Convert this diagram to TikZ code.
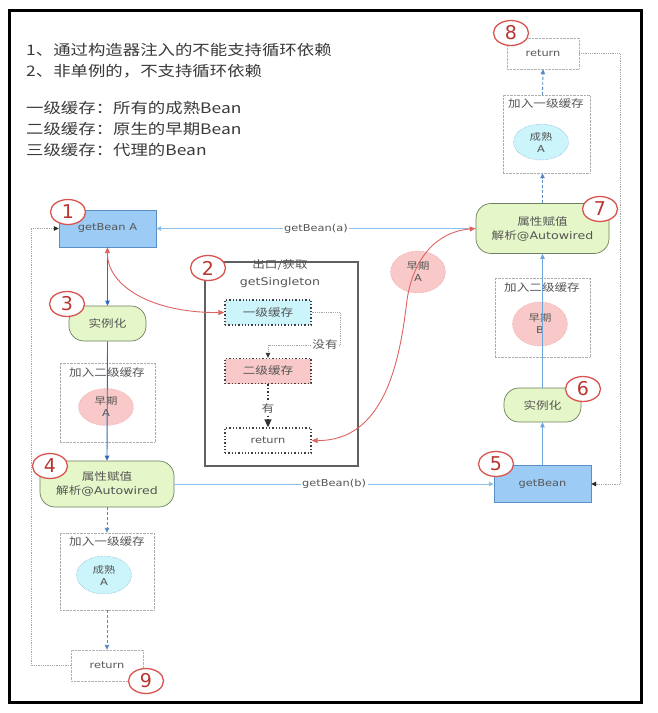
\documentclass[tikz,border=0pt]{standalone}
\usepackage{fontspec}
\setmainfont[FakeStretch=1.2]{Noto Sans CJK SC}
\newfontfamily\lat[FakeStretch=1.2]{DejaVu Sans}
\newfontfamily\numfont{DejaVu Sans}
\usetikzlibrary{arrows.meta,shapes.geometric}
\definecolor{bfill}{HTML}{9CCBF6}
\definecolor{bdraw}{HTML}{5A8FC6}
\definecolor{gfill}{HTML}{E5F6C8}
\definecolor{gdraw}{HTML}{6F7F60}
\definecolor{cyanfill}{HTML}{CBF4FB}
\definecolor{pinkfill}{HTML}{F8C9C8}
\definecolor{redc}{HTML}{D9534F}
\definecolor{numtxt}{HTML}{B8362F}
\definecolor{darkblue}{HTML}{2E6CB5}
\definecolor{lightblue}{HTML}{8CBEE8}
\definecolor{midblue}{HTML}{6AA5DC}
\definecolor{txt}{HTML}{555555}
\definecolor{toptxt}{HTML}{3A3A3A}
\tikzset{
  bbox/.style={draw=bdraw, fill=bfill, minimum width=97pt, minimum height=37pt, inner sep=0pt, text=txt, font=\lat\fontsize{9.5}{12}\selectfont},
  gbox/.style={draw=gdraw, fill=gfill, rounded corners=15pt, inner sep=0pt, text=txt, align=center, line width=0.7pt, font=\fontsize{10.5}{14}\selectfont},
  grp/.style={draw=gray!65, densely dotted, inner sep=0pt},
  grplabel/.style={text=txt, font=\fontsize{10.5}{12}\selectfont, inner sep=0pt},
  cell/.style={ellipse, densely dotted, inner sep=0pt, text=txt, align=center, font=\fontsize{9.5}{12}\selectfont},
  cbox/.style={draw=black!75, dotted, line width=1.3pt, minimum width=86pt, minimum height=25pt, inner sep=0pt, text=txt, font=\fontsize{10.5}{12}\selectfont},
  rbox/.style={draw=gray!60, densely dotted, fill=white, minimum width=72pt, minimum height=31pt, inner sep=0pt, text=txt, font=\lat\fontsize{9.5}{12}\selectfont},
  numc/.style={ellipse, draw=redc, line width=1.3pt, fill=white, minimum width=35pt, minimum height=25pt, inner sep=0pt, text=numtxt, font=\numfont\fontsize{19}{19}\selectfont},
  toptext/.style={anchor=west, inner sep=0pt, text=toptxt, font=\fontsize{14.5}{17}\selectfont},
  arr/.style={-{Triangle[length=5pt,width=4.5pt]}},
  vline/.style={draw=darkblue, line width=0.9pt},
  hline/.style={draw=lightblue, line width=0.9pt},
  rvline/.style={draw=midblue, line width=0.9pt},
  dline/.style={draw=darkblue!80, densely dashed, line width=0.9pt},
  loopline/.style={draw=gray!70, densely dotted, line width=0.8pt, -{Triangle[length=5pt,width=4.5pt,color=black!85]}},
  redline/.style={draw=redc!90, line width=0.9pt, {Triangle[length=6pt,width=5pt]}-{Triangle[length=6pt,width=5pt]}},
  lab/.style={fill=white, inner sep=1.5pt, text=txt, font=\lat\fontsize{9.5}{12}\selectfont}
}
\begin{document}
\begin{tikzpicture}[x=1pt,y=-1pt]
\path[use as bounding box, fill=white] (0,0) rectangle (658,713);
\draw[line width=3pt] (9.5,10.5) rectangle (641.5,702.5);

% top texts
\node[toptext] (t1) at (26,50) {1、通过构造器注入的不能支持循环依赖};
\node[toptext] (t2) at (26,71) {2、非单例的，不支持循环依赖};
\node[toptext] (t3) at (26,108) {一级缓存：所有的成熟Bean};
\node[toptext] (t4) at (26,129) {二级缓存：原生的早期Bean};
\node[toptext] (t5) at (26,150) {三级缓存：代理的Bean};

% group boxes with caches
\node[grp, minimum width=95pt, minimum height=79pt] (gL2) at (107.5,402.5) {};
\node[grplabel] (gL2t) at (107,373) {加入二级缓存};
\node[cell, fill=pinkfill, draw=redc!70, minimum width=55pt, minimum height=37pt] (eaL) at (106,407) {早期\\{\lat A}};

\node[grp, minimum width=94pt, minimum height=77pt] (gL1) at (107,571.5) {};
\node[grplabel] (gL1t) at (107,542) {加入一级缓存};
\node[cell, fill=cyanfill, draw=bdraw, minimum width=55pt, minimum height=38pt] (maL) at (104,575) {成熟\\{\lat A}};

\node[grp, minimum width=87pt, minimum height=78pt] (gR1) at (546.5,134) {};
\node[grplabel] (gR1t) at (546,104) {加入一级缓存};
\node[cell, fill=cyanfill, draw=bdraw, minimum width=55pt, minimum height=36pt] (maR) at (541,142) {成熟\\{\lat A}};

\node[grp, minimum width=95pt, minimum height=79pt] (gR2) at (542.5,317.5) {};
\node[grplabel] (gR2t) at (542,288) {加入二级缓存};
\node[cell, fill=pinkfill, draw=redc!70, minimum width=55pt, minimum height=44pt] (ebR) at (540,324) {早期\\{\lat B}};

\node[cell, fill=pinkfill, draw=redc!70, minimum width=55pt, minimum height=42pt] (eaM) at (418,272) {早期\\{\lat A}};

% getSingleton box
\node[draw=gray!75!black, line width=1.2pt, minimum width=153pt, minimum height=204pt, inner sep=0pt] (sg) at (281.5,364) {};
\node[align=center, text=txt, inner sep=0pt, font=\fontsize{10.5}{17}\selectfont] (sgt) at (280,274) {出口/获取\\{\lat getSingleton}};
\node[cbox, fill=cyanfill] (L1) at (268,312.5) {一级缓存};
\node[cbox, fill=pinkfill] (L2) at (268,371) {二级缓存};
\node[cbox, fill=white, font=\lat\fontsize{9.5}{12}\selectfont] (R2) at (268,440.5) {return};

% main nodes
\node[bbox] (gA) at (107.5,228.5) {getBean A};
\node[gbox, minimum width=77pt, minimum height=35pt] (i3) at (107.5,323.5) {实例化};
\node[gbox, minimum width=134pt, minimum height=46pt] (a4) at (107,484) {属性赋值\\解析{\lat @Autowired}};
\node[rbox] (r9) at (107,665.5) {return};
\node[rbox] (r8) at (543,53.5) {return};
\node[gbox, minimum width=133pt, minimum height=50pt] (a7) at (542.5,228.5) {属性赋值\\解析{\lat @Autowired}};
\node[gbox, minimum width=77pt, minimum height=34pt] (i6) at (542.5,405) {实例化};
\node[bbox] (g5) at (542.5,484) {getBean};

% loops
\coordinate (lt) at (31,228.5);
\coordinate (rr) at (620,484);
\draw[loopline] (r9.west) -| (lt) -- (gA.west);
\draw[loopline] (r8.east) -| (rr) -- (g5.east);

% horizontal calls
\draw[hline, arr] (a7.west) -- node[lab] (la) {getBean(a)} (gA.east);
\draw[hline, arr] (a4.east) -- node[lab] (lb) {getBean(b)} (g5.west);

% left column
\draw[vline, arr] (gA.south) -- (i3.north);
\draw[vline, arr] (i3.south) -- (a4.north);
\draw[dline, arr] (a4.south) -- (gL1.north);
\draw[dline, arr] (gL1.south) -- (r9.north);

% right column
\draw[rvline, arr] (g5.north) -- (i6.south);
\draw[rvline, arr] (i6.north) -- (a7.south);
\draw[dline, arr] (a7.north) -- (a7.north |- gR1.south);
\draw[dline, arr] (a7.north |- gR1.north) -- (r8.south);

% getSingleton inner flow
\coordinate (m1) at (340,345);
\draw[gray!70, densely dotted, line width=0.8pt, -{Triangle[length=5pt,width=4.5pt,color=black!80]}] (L1.east) -| (m1) -- (L2.north |- m1) -- (L2.north);
\node[fill=white, inner sep=1pt, text=txt, font=\fontsize{10.5}{12}\selectfont] (ny) at (325,345) {没有};
\draw[black!80, dotted, line width=1.5pt, -{Triangle[length=8pt,width=7pt]}] (L2.south) -- (R2.north);
\node[fill=white, inner sep=1pt, text=txt, font=\fontsize{10.5}{12}\selectfont] (yy) at (268,408) {有};

% red curves
\coordinate (rc) at (407,300);
\draw[redline] (gA.south) .. controls (107,285) and (150,313) .. (L1.west);
\draw[redline] (R2.east) .. controls (385,441) and (400,360) .. (rc) .. controls (413,260) and (435,232) .. (a7.west);

% number circles
\node[numc] (c1) at (68,212) {1};
\node[numc] (c2) at (208,268) {2};
\node[numc] (c3) at (67,304) {3};
\node[numc] (c4) at (50,466) {4};
\node[numc] (c5) at (496,464) {5};
\node[numc] (c6) at (583,389) {6};
\node[numc] (c7) at (600,209) {7};
\node[numc] (c8) at (511,33) {8};
\node[numc] (c9) at (146,681) {9};
\end{tikzpicture}
\end{document}
